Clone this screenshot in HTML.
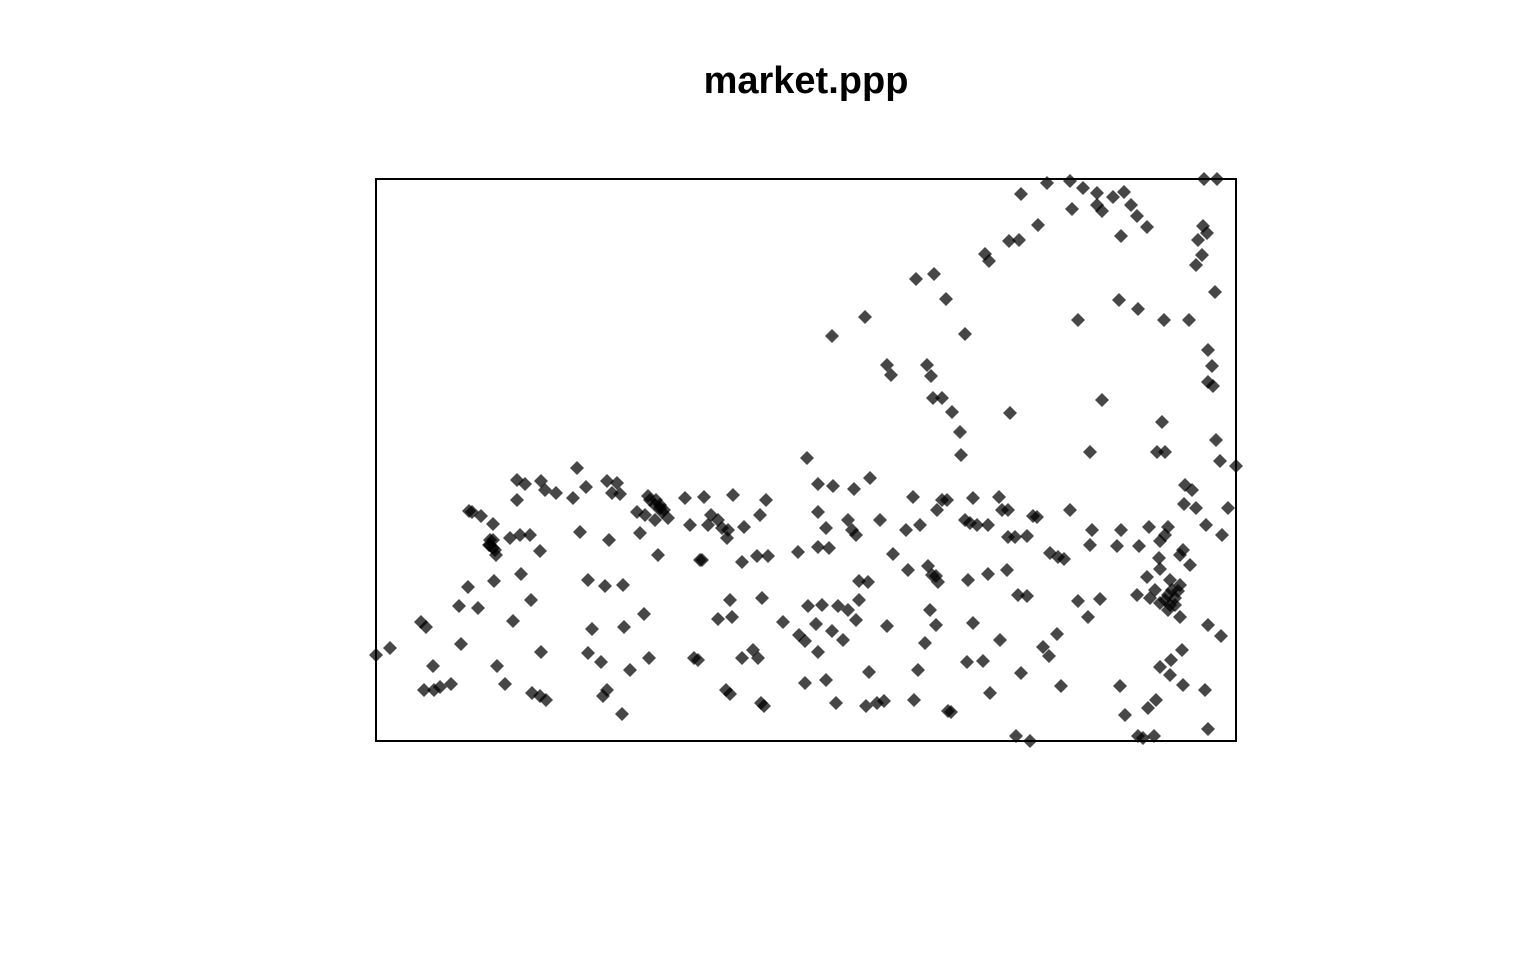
<!DOCTYPE html>
<html><head><meta charset="utf-8"><style>
html,body{margin:0;padding:0;background:#fff;}
svg{display:block;}
</style></head><body>
<svg width="1536" height="960">
<rect width="1536" height="960" fill="#fff"/>
<text x="806" y="93" text-anchor="middle" font-family="Liberation Sans, sans-serif" font-weight="bold" font-size="38">market.ppp</text>
<rect x="376" y="179" width="860" height="562" fill="none" stroke="#000" stroke-width="2"/>
<g id="pts"></g>
</svg>
<script>
const xs = [1021,1047,1070,1083,1097,1097,1102,1113,1124,1131,1137,1147,1121,1072,1038,1019,1009,985,989,916,934,946,1119,1138,1164,1189,1078,965,865,832,1204,1217,1203,1207,1198,1202,1196,1215,1208,1212,1208,1213,887,891,927,931,933,942,952,960,1010,1102,1162,1165,1157,1090,961,1216,1220,1236,1228,1185,1192,1184,1222,1206,1196,
517,541,577,607,617,525,545,556,573,586,612,620,517,648,656,660,664,645,637,668,685,704,733,766,807,818,833,854,870,913,942,947,973,999,1008,1070,1037,1092,1121,469,472,481,493,490,493,496,489,510,520,530,540,580,609,640,655,690,708,722,728,744,760,711,718,727,700,742,757,768,798,818,829,818,826,848,852,856,880,893,906,920,937,965,970,977,988,1002,1008,1027,1033,1058,1064,1090,1117,1139,1149,1168,1165,1160,1180,1183,1159,1147,1160,1170,1180,1168,1175,1180,1160,1150,1137,1155,1190,1178,
658,702,521,494,468,478,459,531,513,588,605,623,644,592,588,601,624,649,630,607,603,622,730,732,762,783,808,822,838,848,856,832,816,799,805,818,887,930,936,925,973,1000,1007,1018,1027,968,988,932,938,928,908,868,859,859,1078,1100,1088,1057,1043,1049,1061,1021,990,967,983,918,869,843,826,805,836,866,877,884,914,948,951,761,764,726,730,742,753,758,694,698,718,532,540,546,541,497,505,461,433,424,434,440,451,421,426,390,376,1016,1030,1138,1143,1154,1125,1208,1148,1156,1183,1170,1160,1171,1182,1120,1205,1221,1208,1050,1015,936,
655,662,660,650,1165,1170,1175,1168,1172,493,490,495];
const ys = [194,183,181,188,193,205,211,197,192,205,216,227,236,209,225,240,241,254,261,279,274,299,300,309,320,320,320,334,317,336,179,179,226,233,240,255,265,292,350,366,382,386,365,375,365,376,398,398,412,432,413,400,422,452,452,452,455,440,461,466,508,485,490,504,535,525,508,
480,481,468,481,483,484,490,493,498,487,493,494,500,496,500,505,510,515,512,518,498,497,495,500,458,484,486,489,478,497,500,500,498,497,510,510,517,530,530,511,512,516,524,540,548,555,545,538,535,535,551,532,540,533,520,525,525,528,530,527,515,515,520,538,560,562,556,556,552,547,548,512,528,520,530,535,520,554,530,525,510,520,523,525,525,510,537,536,516,557,559,545,546,546,527,527,535,541,555,550,558,577,569,580,585,595,605,617,603,598,595,590,565,591,
555,560,574,581,587,608,606,600,621,580,586,585,614,629,653,662,627,658,670,690,696,714,600,617,598,622,606,605,606,610,620,631,624,635,641,652,626,610,625,643,623,640,570,595,596,580,574,575,582,566,570,582,581,600,601,599,617,634,647,656,686,673,693,662,661,670,672,640,680,683,703,706,703,701,700,711,712,703,706,690,694,658,650,658,658,660,619,693,696,700,652,666,684,644,666,690,690,687,684,622,627,648,655,736,741,736,738,736,715,729,708,700,685,675,667,660,650,686,690,636,625,553,537,576,
505,512,508,500,600,605,598,610,590,540,545,550];
const xMin = 376, xMax = 1236, yMin = 741, yMax = 179;
const L = 376, R = 1236, T = 179, B = 741;
function sx(v){ return L + (v - xMin) / (xMax - xMin) * (R - L); }
function sy(v){ return B - (v - yMin) / (yMax - yMin) * (B - T); }
const g = document.getElementById('pts');
const NS = 'http://www.w3.org/2000/svg';
for (let i = 0; i < xs.length; i++) {
  const cx = sx(xs[i]), cy = sy(ys[i]), r = 7;
  const p = document.createElementNS(NS, 'polygon');
  p.setAttribute('points', `${cx},${cy-r} ${cx+r},${cy} ${cx},${cy+r} ${cx-r},${cy}`);
  p.setAttribute('fill', 'rgba(0,0,0,0.72)');
  
  
  g.appendChild(p);
}
</script>
</body></html>
